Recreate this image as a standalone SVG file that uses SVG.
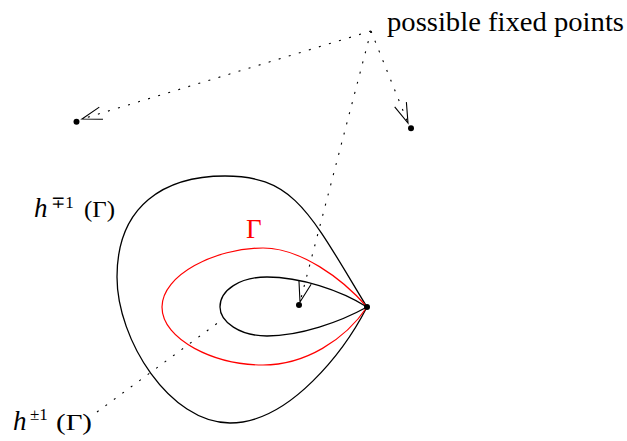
<svg xmlns="http://www.w3.org/2000/svg" width="627" height="441" viewBox="0 0 627 441">
<style>
.t{font-family:"Liberation Serif","DejaVu Serif",serif;fill:#000}
.curve{fill:none;stroke:#000;stroke-width:1.3}
.red{fill:none;stroke:#f00;stroke-width:1.2}
.dot{stroke:#000;stroke-width:1.1;stroke-dasharray:2 8.5;fill:none}
.pt{fill:#000}
</style>
<defs>
<marker id="arr" markerUnits="userSpaceOnUse" markerWidth="30" markerHeight="20" viewBox="-22 -10 24 20" refX="0" refY="0" orient="auto">
<path d="M-20,-6.3 L0,0 L-20,6.3" fill="none" stroke="#000" stroke-width="1.1"/>
</marker>
</defs>
<rect width="627" height="441" fill="#fff"/>
<g id="curves">
<path id="outer" class="curve" d="M367,307 C310,213.5 295,176 225,176 C165,176 117,205 117,277 C117,340 170,423 230,423 C290,423 345,350 367,307 Z"/>
<path id="gamma" class="red" d="M367,307 C342,278 300,248 263,248 C215,248 162,275 162,307 C162,340 215,365 263,365 C305,365 345,340 367,307 Z"/>
<path id="inner" class="curve" d="M367,307 C340,290 300,277 267,277 C240,277 220,290 220,307 C220,322 240,336 267,336 C300,336 340,322 367,307 Z"/>
</g>
<g id="connectors">
<path class="dot" d="M371,31 L82,119" marker-end="url(#arr)"/>
<path class="dot" d="M371,31 L408,123" marker-end="url(#arr)"/>
<path class="dot" d="M371,31 L300,302" marker-end="url(#arr)"/>
<path class="dot" d="M97,412 L223,319"/>
</g>
<g id="points">
<circle class="pt" cx="76.5" cy="121.7" r="3"/>
<circle class="pt" cx="411" cy="128.3" r="3"/>
<circle class="pt" cx="299" cy="305" r="3"/>
<circle class="pt" cx="367" cy="307" r="3"/>
</g>
<g id="label-fixed">
<text class="t" x="387" y="31" font-size="27" textLength="237" lengthAdjust="spacingAndGlyphs">possible fixed points</text>
</g>
<g id="label-hmp">
<text class="t" y="217" font-size="23"><tspan x="34" font-size="27" font-style="italic">h</tspan><tspan x="51" y="208" font-size="17">∓1</tspan><tspan x="84" y="217" textLength="31" lengthAdjust="spacingAndGlyphs">(Γ)</tspan></text>
</g>
<g id="label-hpm">
<text class="t" y="430" font-size="23"><tspan x="13" font-size="27" font-style="italic">h</tspan><tspan x="30" y="420" font-size="17">±1</tspan><tspan x="56" y="430" textLength="36" lengthAdjust="spacingAndGlyphs">(Γ)</tspan></text>
</g>
<g id="label-gamma">
<text class="t" x="246" y="238" font-size="27" style="fill:#f00">Γ</text>
</g>
</svg>
